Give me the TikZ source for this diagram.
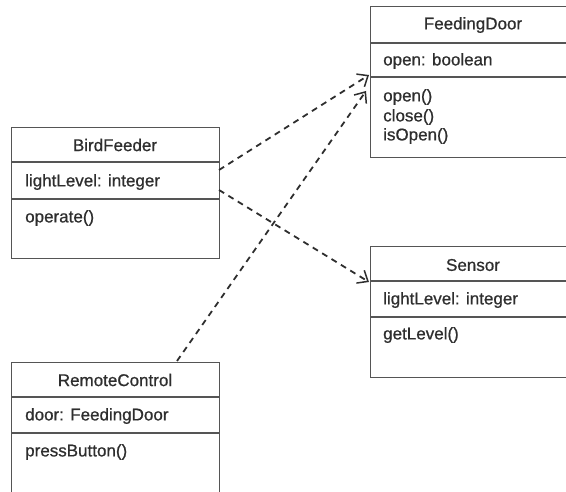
\documentclass[tikz,border=0pt]{standalone}
\usepackage{fontspec}
\setmainfont[FakeBold=0.8]{Liberation Sans}
\usetikzlibrary{arrows.meta}
\tikzset{
  classbox/.style={draw=boxline, line width=1.4pt, rectangle, inner sep=0pt, anchor=north west},
  divider/.style={draw=boxline, line width=1.4pt},
  title/.style={text=ink, inner sep=0pt, font=\fontsize{17}{20}\selectfont, anchor=center},
  member/.style={text=ink, inner sep=0pt, font=\fontsize{17}{20}\selectfont, anchor=west},
  depend/.style={draw=ink, line width=1.8pt, dash pattern=on 6pt off 5pt,
    -{Straight Barb[length=9pt,width=15pt,line width=1.5pt]}}
}
\definecolor{boxline}{HTML}{555555}
\definecolor{ink}{HTML}{2E2E2E}
\begin{document}
\begin{tikzpicture}[x=1pt,y=-1pt]
\useasboundingbox (0,0) rectangle (566,492);
\clip (0,0) rectangle (566,492);

% BirdFeeder
\node[classbox, minimum width=208pt, minimum height=131pt] (bird) at (11,127) {};
\draw[divider] (11,162) -- (219,162);
\draw[divider] (11,199) -- (219,199);
\node[title] (birdT) at (115,145) {BirdFeeder};
\node[member] (birdA) at (25,182) {lightLevel: integer};
\node[member] (birdM) at (25,218) {operate()};

% FeedingDoor (runs past the right edge)
\node[classbox, minimum width=206pt, minimum height=151pt] (door) at (370,6) {};
\draw[divider] (370,43) -- (576,43);
\draw[divider] (370,77) -- (576,77);
\node[title] (doorT) at (473,25) {FeedingDoor};
\node[member] (doorA) at (383,61) {open: boolean};
\node[member] (doorM1) at (383,97) {open()};
\node[member] (doorM2) at (383,117) {close()};
\node[member] (doorM3) at (383,136) {isOpen()};

% Sensor (runs past the right edge)
\node[classbox, minimum width=206pt, minimum height=131pt] (sensor) at (370,246) {};
\draw[divider] (370,281) -- (576,281);
\draw[divider] (370,317) -- (576,317);
\node[title] (sensorT) at (473,265) {Sensor};
\node[member] (sensorA) at (383,300) {lightLevel: integer};
\node[member] (sensorM) at (383,335) {getLevel()};

% RemoteControl (runs past the bottom edge)
\node[classbox, minimum width=208pt, minimum height=150pt] (remote) at (11,362) {};
\draw[divider] (11,397) -- (219,397);
\draw[divider] (11,433) -- (219,433);
\node[title] (remoteT) at (115,380) {RemoteControl};
\node[member] (remoteA) at (25,416) {door: FeedingDoor};
\node[member] (remoteM) at (25,452) {pressButton()};

% connector ends
\coordinate (birdOut1) at (219,170);
\coordinate (birdOut2) at (219,190);
\coordinate (remoteOut) at (177,361);
\coordinate (doorIn1) at (369,75);
\coordinate (doorIn2) at (366,91);
\coordinate (sensorIn) at (369,282);

% dependencies
\draw[depend] (birdOut1) -- (doorIn1);
\draw[depend] (birdOut2) -- (sensorIn);
\draw[depend] (remoteOut) -- (doorIn2);
\end{tikzpicture}
\end{document}
